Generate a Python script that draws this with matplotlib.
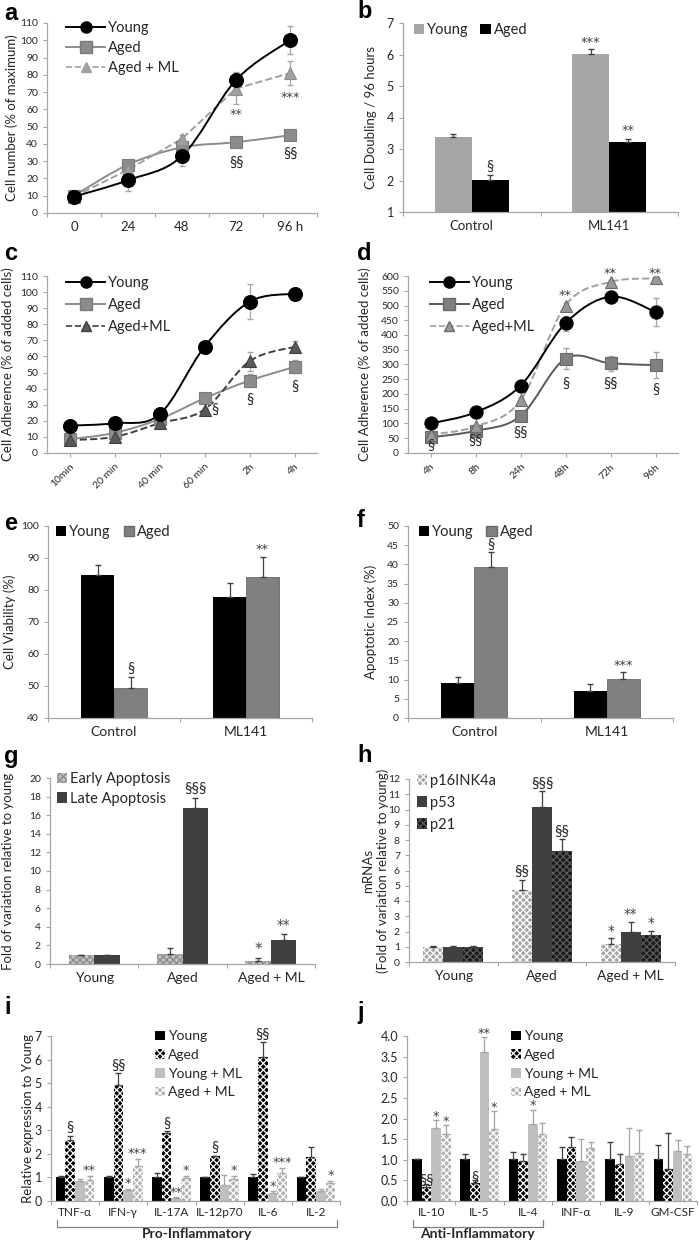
import numpy as np
import matplotlib
matplotlib.use('Agg')
import matplotlib.pyplot as plt
from matplotlib.path import Path
from matplotlib.patches import PathPatch, Patch
from matplotlib.lines import Line2D

plt.rcParams['font.family'] = ['Lato', 'DejaVu Sans']
plt.rcParams['hatch.linewidth'] = 0.9

W, H = 699, 1240

# ---------------- data ----------------
# a: cell number (% of maximum)
a_x = ['0', '24', '48', '72', '96 h']
a_young = [9.5, 19, 33, 77, 100]
a_young_err = [1, 6, 6, 4.5, 8]
a_aged = [10, 28, 38, 41, 45]
a_aged_err = [1, 1.5, 2, 3, 1.5]
a_agedml = [9.5, 25, 43, 72, 81]
a_agedml_err = [1, 2, 2, 9, 7]

# b: cell doubling / 96 h
b_x = ['Control', 'ML141']
b_young = [3.38, 6.02]
b_young_err = [0.11, 0.14]
b_aged = [2.02, 3.23]
b_aged_err = [0.14, 0.1]

# c: cell adherence, short times
c_x = ['10min', '20 min', '40 min', '60 min', '2h', '4h']
c_young = [17, 18.5, 24, 66, 94, 99]
c_young_err = [0.5, 0.5, 1, 1, 11, 1]
c_aged = [8.5, 12.5, 21, 34, 45, 53.5]
c_aged_err = [0.5, 1, 1, 2, 4, 4]
c_agedml = [8, 10, 18.5, 27, 57, 66]
c_agedml_err = [0.5, 1, 1, 1, 6, 3.5]

# d: cell adherence, long times
d_x = ['4h', '8h', '24h', '48h', '72h', '96h']
d_young = [100, 138, 228, 440, 530, 478]
d_young_err = [5, 6, 8, 25, 20, 47]
d_aged = [53, 75, 125, 320, 304, 298]
d_aged_err = [4, 5, 6, 35, 25, 43]
d_agedml = [62, 90, 178, 500, 580, 592]
d_agedml_err = [4, 5, 8, 10, 8, 6]

# e: cell viability (%)
e_x = ['Control', 'ML141']
e_young = [84.7, 77.7]
e_young_err = [3.0, 4.5]
e_aged = [49.5, 84.2]
e_aged_err = [3.3, 6.0]

# f: apoptotic index (%)
f_x = ['Control', 'ML141']
f_young = [9.2, 7.0]
f_young_err = [1.5, 1.8]
f_aged = [39.2, 10.2]
f_aged_err = [4.0, 1.8]

# g: apoptosis fold of variation
g_x = ['Young', 'Aged', 'Aged + ML']
g_early = [1.0, 1.05, 0.3]
g_early_err = [0.02, 0.7, 0.3]
g_late = [1.0, 16.8, 2.55]
g_late_err = [0.02, 1.1, 0.7]

# h: mRNAs
h_x = ['Young', 'Aged', 'Aged + ML']
h_p16 = [1.0, 4.7, 1.15]
h_p16_err = [0.02, 0.7, 0.4]
h_p53 = [1.0, 10.15, 2.0]
h_p53_err = [0.02, 1.05, 0.65]
h_p21 = [1.0, 7.3, 1.8]
h_p21_err = [0.02, 0.75, 0.25]

# i: pro-inflammatory cytokines
i_x = ['TNF-α', 'IFN-γ', 'IL-17A', 'IL-12p70', 'IL-6', 'IL-2']
i_young = [1, 1, 1, 1, 1, 1]
i_young_err = [0.08, 0.07, 0.2, 0.03, 0.13, 0.03]
i_aged = [2.6, 4.93, 2.88, 1.9, 6.13, 1.87]
i_aged_err = [0.17, 0.48, 0.08, 0.03, 0.6, 0.42]
i_youngml = [0.83, 0.45, 0.13, 0.67, 0.33, 0.42]
i_youngml_err = [0.12, 0.08, 0.05, 0.42, 0.08, 0.08]
i_agedml = [0.88, 1.47, 0.98, 0.92, 1.2, 0.75]
i_agedml_err = [0.2, 0.3, 0.1, 0.15, 0.22, 0.1]
i_sig_aged = ['§', '§§', '§', '§', '§§', '']
i_sig_youngml = ['', '*', '**', '', '*', '']
i_sig_agedml = ['**', '***', '*', '*', '***', '*']

# j: anti-inflammatory / other cytokines
j_x = ['IL-10', 'IL-5', 'IL-4', 'INF-α', 'IL-9', 'GM-CSF']
j_young = [1.02, 1.02, 1.02, 1.02, 1.02, 1.02]
j_young_err = [0.01, 0.13, 0.16, 0.3, 0.42, 0.33]
j_aged = [0.35, 0.43, 0.96, 1.32, 0.89, 0.78]
j_aged_err = [0.07, 0.07, 0.17, 0.24, 0.24, 0.88]
j_youngml = [1.78, 3.62, 1.87, 0.98, 1.1, 1.22]
j_youngml_err = [0.18, 0.35, 0.34, 0.53, 0.68, 0.25]
j_agedml = [1.62, 1.75, 1.62, 1.28, 1.16, 1.13]
j_agedml_err = [0.22, 0.42, 0.27, 0.16, 0.55, 0.2]
j_sig_aged = ['§§', '§', '', '', '', '']
j_sig_youngml = ['*', '**', '*', '', '', '']
j_sig_agedml = ['*', '*', '', '', '', '']

TXT = '#262626'
AX = '#a6a6a6'


# ---------------- helpers ----------------
def px_axes(fig, l, t, r, b):
    return fig.add_axes([l / W, 1 - b / H, (r - l) / W, (b - t) / H])


def style(ax, ylim, ystep, fs=7.5, fmt=None):
    for s in ['top', 'right']:
        ax.spines[s].set_visible(False)
    for s in ['left', 'bottom']:
        ax.spines[s].set_color(AX)
        ax.spines[s].set_linewidth(0.9)
    ax.tick_params(colors=AX, labelcolor=TXT, labelsize=fs, length=3, width=0.8)
    ax.set_ylim(*ylim)
    ticks = np.arange(ylim[0], ylim[1] + ystep / 2, ystep)
    ax.set_yticks(ticks)
    if fmt:
        ax.set_yticklabels([fmt.format(t) for t in ticks])


def cat_axis(ax, labels, fs, between=True):
    n = len(labels)
    ax.set_xlim(-0.5, n - 0.5)
    ax.set_xticks(range(n))
    ax.set_xticklabels(labels, fontsize=fs, color=TXT)
    if between:
        ax.tick_params(axis='x', which='major', length=0, pad=6)
        ax.set_xticks(np.arange(n + 1) - 0.5, minor=True)
        ax.tick_params(axis='x', which='minor', length=3, color=AX, width=0.8)


def smooth(ax, x, y, **kw):
    # Excel-like smoothed line drawn as cubic Bezier segments through the points
    x = np.asarray(x, float)
    y = np.asarray(y, float)
    px = np.r_[x[0], x, x[-1]]
    py = np.r_[y[0], y, y[-1]]
    verts = [(x[0], y[0])]
    codes = [Path.MOVETO]
    for i in range(len(x) - 1):
        c1 = (px[i + 1] + (px[i + 2] - px[i]) / 6, py[i + 1] + (py[i + 2] - py[i]) / 6)
        c2 = (px[i + 2] - (px[i + 3] - px[i + 1]) / 6, py[i + 2] - (py[i + 3] - py[i + 1]) / 6)
        verts += [c1, c2, (x[i + 1], y[i + 1])]
        codes += [Path.CURVE4] * 3
    ax.add_patch(PathPatch(Path(verts, codes), fill=False, **kw))


def line_series(ax, y, err, color, marker, mface, medge, ms, ls='-', smooth_it=True, ecolor=None):
    x = np.arange(len(y))
    if smooth_it:
        smooth(ax, x, y, edgecolor=color, linewidth=1.4, linestyle=ls, zorder=2)
    else:
        ax.plot(x, y, color=color, lw=1.4, ls=ls, zorder=2)
    ax.errorbar(x, y, yerr=err, fmt='none', ecolor=ecolor or AX, elinewidth=0.9, capsize=2.5, zorder=1)
    ax.plot(x, y, ls='none', marker=marker, ms=ms, mfc=mface, mec=medge, mew=0.8, zorder=3)


def bars(ax, series, width):
    n = len(series)
    for k, s in enumerate(series):
        vals = np.asarray(s['y'], float)
        x = np.arange(len(vals)) + (k - (n - 1) / 2) * width
        ax.bar(x, vals, width, color=s['fc'], edgecolor=s.get('ec', s['fc']), hatch=s.get('hatch'),
               linewidth=s.get('lw', 0), zorder=2)
        err = np.asarray(s['err'], float)
        ax.errorbar(x, vals, yerr=[np.zeros_like(err), err], fmt='none', ecolor=s.get('ecol', '#404040'),
                    elinewidth=0.9, capsize=2.5, zorder=3)
        s['x'] = x
        s['top'] = vals + err


def note(ax, x, y, lab, va='center', fs=10.5):
    # asterisks look closer to the original in DejaVu Sans, section signs in Lato
    if '*' in lab:
        ax.text(x, y, lab, ha='center', va=va, fontsize=fs - 1.2, color='#404040', family='DejaVu Sans')
    else:
        ax.text(x, y, lab, ha='center', va=va, fontsize=fs, color=TXT)


def sig(ax, s, labels, pad, fs=10.5):
    for xi, top, lab in zip(s['x'], s['top'], labels):
        if lab:
            note(ax, xi, top + pad, lab, va='bottom', fs=fs)


def letter(fig, x, y, s):
    fig.text(x / W, 1 - y / H, s, fontsize=17, fontweight='bold', family='Liberation Sans',
             ha='left', va='center', color='black')


def ylab(ax, text, xpos, fs=9.5):
    ax.set_ylabel(text, fontsize=fs, color=TXT)
    ax.yaxis.set_label_coords(xpos, 0.5)
    ax.yaxis.label.set_verticalalignment('center')


def sq_legend(ax, handles, labels, anchor, fs=10.5, ncol=1, spacing=0.3, colsp=0.9):
    ax.legend(handles, labels, loc='upper left', bbox_to_anchor=anchor, ncol=ncol, frameon=False,
              fontsize=fs, handlelength=0.7, handleheight=0.7, handletextpad=0.2, labelspacing=spacing,
              columnspacing=colsp, borderpad=0, borderaxespad=0, labelcolor=TXT)


def line_legend(ax, handles, labels, anchor, spacing):
    ax.legend(handles, labels, loc='upper left', bbox_to_anchor=anchor, frameon=False, fontsize=10.5,
              handlelength=2.7, handletextpad=0.2, labelspacing=spacing, borderpad=0, borderaxespad=0,
              labelcolor=TXT)


fig = plt.figure(figsize=(W / 100, H / 100), dpi=100)

# ---------------- a ----------------
ax = px_axes(fig, 47, 23, 317, 213)
style(ax, (0, 110), 10)
cat_axis(ax, a_x, 9.5)
line_series(ax, a_aged, a_aged_err, '#8c8c8c', 's', '#8c8c8c', '#7a7a7a', 9)
line_series(ax, a_agedml, a_agedml_err, '#a0a0a0', '^', '#a0a0a0', '#909090', 8.5, ls='--', smooth_it=False)
line_series(ax, a_young, a_young_err, 'black', 'o', 'black', 'black', 10)
note(ax, 3, 57, '**')
note(ax, 4, 67, '***')
note(ax, 3, 29, '§§')
note(ax, 4, 34, '§§')
ylab(ax, 'Cell number (% of maximum)', -0.13)
hl = [Line2D([], [], color='black', marker='o', ms=8, lw=1.4),
      Line2D([], [], color='#8c8c8c', marker='s', ms=8, lw=1.4, mfc='#8c8c8c', mec='#7a7a7a'),
      Line2D([], [], color='#a0a0a0', marker='^', ms=7.5, lw=1.2, ls='--')]
line_legend(ax, hl, ['Young', 'Aged', 'Aged + ML'], (0.07, 1.01), 0.4)

# ---------------- b ----------------
ax = px_axes(fig, 403, 23, 678, 212)
style(ax, (1, 7), 1, fs=9)
cat_axis(ax, b_x, 9.5)
sb = [dict(y=b_young, err=b_young_err, fc='#a6a6a6'),
      dict(y=b_aged, err=b_aged_err, fc='black')]
bars(ax, sb, 0.27)
sig(ax, sb[1], ['§', '**'], 0.05)
sig(ax, sb[0], ['', '***'], 0.0)
ylab(ax, 'Cell Doubling / 96 hours', -0.115)
sq_legend(ax, [Patch(fc='#a6a6a6'), Patch(fc='black')], ['Young', 'Aged'], (0.04, 1.0), ncol=2,
          colsp=0.8)

# ---------------- c ----------------
ax = px_axes(fig, 47, 276, 317, 453)
style(ax, (0, 110), 10)
cat_axis(ax, c_x, 7.5, between=False)
plt.setp(ax.get_xticklabels(), rotation=45, ha='right', rotation_mode='anchor')
line_series(ax, c_aged, c_aged_err, '#8c8c8c', 's', '#8c8c8c', '#7a7a7a', 9)
line_series(ax, c_agedml, c_agedml_err, '#404040', '^', '#595959', '#404040', 8, ls='--')
line_series(ax, c_young, c_young_err, 'black', 'o', 'black', 'black', 10)
note(ax, 3.22, 27, '§')
note(ax, 4, 33, '§')
note(ax, 5, 41, '§')
ylab(ax, 'Cell Adherence (% of added cells)', -0.145)
hl = [Line2D([], [], color='black', marker='o', ms=8, lw=1.4),
      Line2D([], [], color='#8c8c8c', marker='s', ms=8, lw=1.4, mfc='#8c8c8c', mec='#7a7a7a'),
      Line2D([], [], color='#404040', marker='^', ms=7.5, lw=1.2, ls='--', mfc='#595959')]
line_legend(ax, hl, ['Young', 'Aged', 'Aged+ML'], (0.07, 1.0), 0.55)

# ---------------- d ----------------
ax = px_axes(fig, 408, 276, 678, 453)
style(ax, (0, 600), 50)
cat_axis(ax, d_x, 7.5, between=False)
plt.setp(ax.get_xticklabels(), rotation=45, ha='right', rotation_mode='anchor')
line_series(ax, d_aged, d_aged_err, '#595959', 's', '#808080', '#6a6a6a', 9)
line_series(ax, d_agedml, d_agedml_err, '#a0a0a0', '^', '#999999', '#6a6a6a', 8.5, ls='--')
line_series(ax, d_young, d_young_err, 'black', 'o', 'black', 'black', 9.5)
for xi, yv, lab in [(0, 25, '§'), (1, 40, '§§'), (2, 68, '§§'), (3, 236, '§'), (4, 236, '§§'), (5, 214, '§')]:
    note(ax, xi, yv, lab)
for xi, yv in [(3, 535), (4, 610), (5, 610)]:
    note(ax, xi, yv, '**')
ylab(ax, 'Cell Adherence (% of added cells)', -0.16)
hl = [Line2D([], [], color='black', marker='o', ms=8, lw=1.4),
      Line2D([], [], color='#595959', marker='s', ms=8, lw=1.4, mfc='#808080', mec='#6a6a6a'),
      Line2D([], [], color='#a0a0a0', marker='^', ms=7.5, lw=1.2, ls='--', mfc='#999999', mec='#6a6a6a')]
line_legend(ax, hl, ['Young', 'Aged', 'Aged+ML'], (0.08, 1.0), 0.55)

# ---------------- e ----------------
ax = px_axes(fig, 48, 526, 312, 718)
style(ax, (40, 100), 10)
cat_axis(ax, e_x, 10)
se = [dict(y=e_young, err=e_young_err, fc='black'),
      dict(y=e_aged, err=e_aged_err, fc='#808080', ec='#6a6a6a', lw=0.6)]
bars(ax, se, 0.25)
sig(ax, se[1], ['§', '**'], 0.3)
ylab(ax, 'Cell Viability (%)', -0.145)
sq_legend(ax, [Patch(fc='black'), Patch(fc='#808080', ec='#6a6a6a')], ['Young', 'Aged'], (0.03, 1.005),
          ncol=2)

# ---------------- f ----------------
ax = px_axes(fig, 408, 526, 673, 718)
style(ax, (0, 50), 5)
cat_axis(ax, f_x, 10)
sf = [dict(y=f_young, err=f_young_err, fc='black'),
      dict(y=f_aged, err=f_aged_err, fc='#808080', ec='#6a6a6a', lw=0.6)]
bars(ax, sf, 0.25)
sig(ax, sf[1], ['§', '***'], 0.0)
ylab(ax, 'Apoptotic Index (%)', -0.14)
sq_legend(ax, [Patch(fc='black'), Patch(fc='#808080', ec='#6a6a6a')], ['Young', 'Aged'], (0.04, 1.005),
          ncol=2)

# ---------------- g ----------------
ax = px_axes(fig, 50, 778, 315, 964)
style(ax, (0, 20), 2)
cat_axis(ax, g_x, 10)
early = dict(fc='#c0c0c0', ec='#8a8a8a', hatch='xxxxx')
sg = [dict(y=g_early, err=g_early_err, **early),
      dict(y=g_late, err=g_late_err, fc='#404040')]
bars(ax, sg, 0.29)
sig(ax, sg[0], ['', '', '*'], 0.1, fs=12)
sig(ax, sg[1], ['', '§§§', '**'], 0.2, fs=11)
ylab(ax, 'Fold of variation relative to young', -0.16)
sq_legend(ax, [Patch(lw=0, **early), Patch(fc='#404040')], ['Early Apoptosis', 'Late Apoptosis'],
          (0.025, 1.03), spacing=0.35)

# ---------------- h ----------------
ax = px_axes(fig, 409, 779, 675, 962)
style(ax, (0, 12), 1)
cat_axis(ax, h_x, 10)
p16 = dict(fc='#a6a6a6', ec='white', hatch='xxxxx')
p21 = dict(fc='#1a1a1a', ec='#5a5a5a', hatch='xxxxx')
sh = [dict(y=h_p16, err=h_p16_err, **p16),
      dict(y=h_p53, err=h_p53_err, fc='#404040'),
      dict(y=h_p21, err=h_p21_err, **p21)]
bars(ax, sh, 0.225)
sig(ax, sh[0], ['', '§§', '*'], 0.05, fs=11)
sig(ax, sh[1], ['', '§§§', '**'], 0.05, fs=11)
sig(ax, sh[2], ['', '§§', '*'], 0.05, fs=11)
ylab(ax, 'mRNAs\n(Fold of variation relative to young)', -0.125)
sq_legend(ax, [Patch(lw=0, **p16), Patch(fc='#404040'), Patch(lw=0, **p21)], ['p16INK4a', 'p53', 'p21'],
          (0.03, 1.03), spacing=0.55)

# ---------------- i & j ----------------
aged_st = dict(fc='black', ec='white', hatch='xxxxx')
agedml_st = dict(fc='#b3b3b3', ec='white', hatch='xxxxx')


def cytokines(ax, yo, yoe, ag, age, ym, yme, am, ame):
    s = [dict(y=yo, err=yoe, fc='black'),
         dict(y=ag, err=age, **aged_st),
         dict(y=ym, err=yme, fc='#bfbfbf', ecol='#a6a6a6'),
         dict(y=am, err=ame, ecol='#a6a6a6', **agedml_st)]
    bars(ax, s, 0.2)
    sq_legend(ax, [Patch(fc='black'), Patch(lw=0, **aged_st), Patch(fc='#bfbfbf'), Patch(lw=0, **agedml_st)],
              ['Young', 'Aged', 'Young + ML', 'Aged + ML'], (0.36, 1.035), fs=10, spacing=0.48)
    return s


def bracket(ax, x0, x1, text):
    tr = ax.get_xaxis_transform()
    ax.plot([x0, x0, x1, x1], [-0.115, -0.158, -0.158, -0.115], color='#808080', lw=0.9,
            transform=tr, clip_on=False)
    ax.text((x0 + x1) / 2, -0.2, text, transform=tr, ha='center', va='center', fontsize=10,
            fontweight='bold', color=TXT)


ax = px_axes(fig, 51, 1036, 340, 1201)
style(ax, (0, 7), 1, fs=9)
cat_axis(ax, i_x, 8.5)
ax.tick_params(axis='x', which='major', pad=4)
si = cytokines(ax, i_young, i_young_err, i_aged, i_aged_err, i_youngml, i_youngml_err,
               i_agedml, i_agedml_err)
sig(ax, si[1], i_sig_aged, 0.02)
sig(ax, si[2], i_sig_youngml, -0.08)
sig(ax, si[3], i_sig_agedml, -0.05)
ylab(ax, 'Relative expression to Young', -0.08)
bracket(ax, -0.38, len(i_x) - 1 + 0.44, 'Pro-Inflammatory')

ax = px_axes(fig, 407, 1036, 697, 1201)
style(ax, (0, 4), 0.5, fs=9, fmt='{:.1f}')
cat_axis(ax, j_x, 8.5)
ax.tick_params(axis='x', which='major', pad=4)
sj = cytokines(ax, j_young, j_young_err, j_aged, j_aged_err, j_youngml, j_youngml_err,
               j_agedml, j_agedml_err)
sig(ax, sj[1], j_sig_aged, -0.1)
sig(ax, sj[2], j_sig_youngml, -0.06)
sig(ax, sj[3], j_sig_agedml, -0.06)
bracket(ax, -0.38, 2.31, 'Anti-Inflammatory')

# panel letters
for x, y, s in [(4, 14, 'a'), (357, 12, 'b'), (4, 253, 'c'), (357, 253, 'd'), (4, 523, 'e'),
                (357, 520, 'f'), (4, 757, 'g'), (357, 755, 'h'), (4, 1007, 'i'), (357, 1013, 'j')]:
    letter(fig, x, y, s)

fig.savefig('out.png', dpi=100)
